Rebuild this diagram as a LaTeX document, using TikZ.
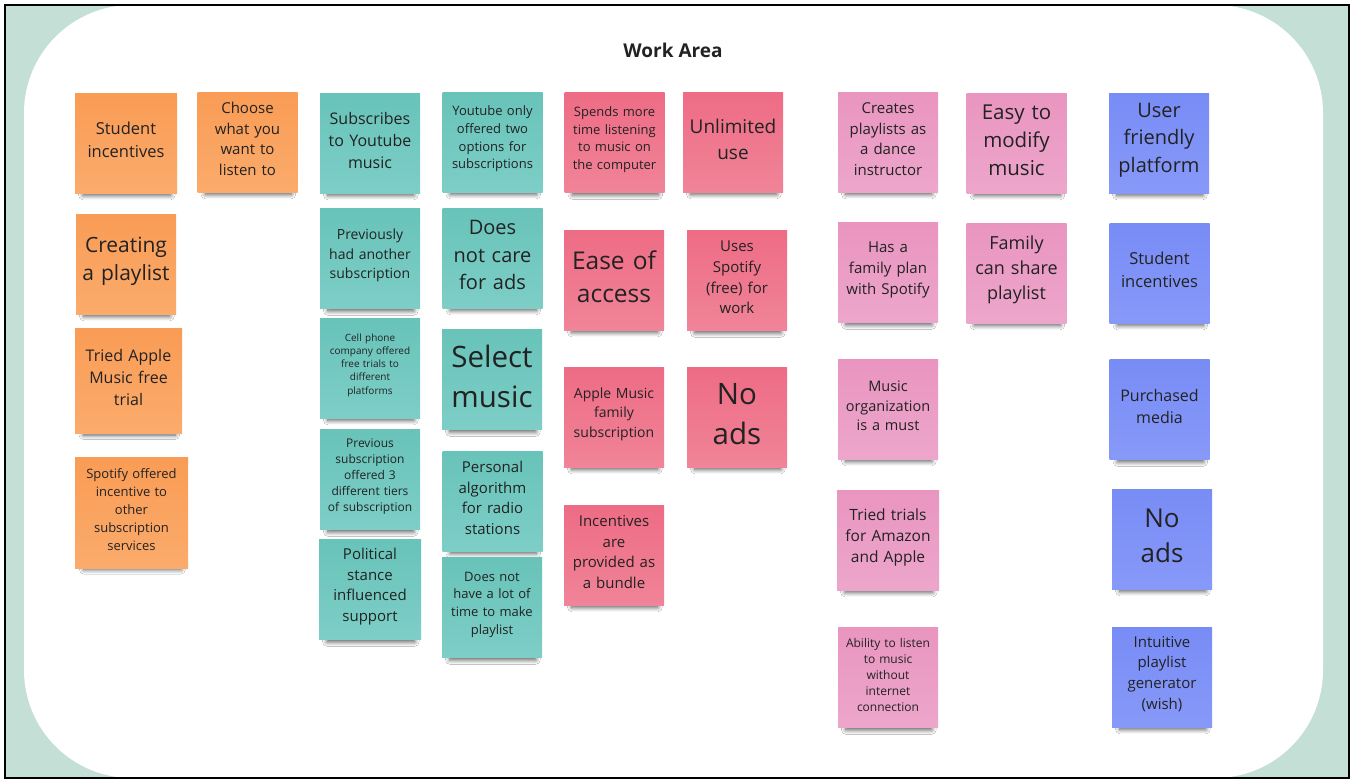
\documentclass[tikz,border=0pt]{standalone}
\usepackage{fontspec}
\setmainfont{Open Sans}
\usepackage{xcolor}
\usepackage{tikz}
\usetikzlibrary{shadows.blur}

\definecolor{boardgreen}{HTML}{C4DFD6}
\definecolor{notetext}{HTML}{222222}
\definecolor{orangetop}{HTML}{F99C55}
\definecolor{orangebot}{HTML}{FBAB6C}
\definecolor{tealtop}{HTML}{68C3B9}
\definecolor{tealbot}{HTML}{7DCEC7}
\definecolor{redtop}{HTML}{EE6C85}
\definecolor{redbot}{HTML}{F08498}
\definecolor{pinktop}{HTML}{E995C0}
\definecolor{pinkbot}{HTML}{EDA6CB}
\definecolor{bluetop}{HTML}{788CF6}
\definecolor{bluebot}{HTML}{8799F8}
\newcommand{\notefont}[2]{\fontsize{#1}{#2}\selectfont}

\begin{document}
\begin{tikzpicture}[
  x=1pt, y=-1pt,
  note/.style={rectangle, inner sep=0pt, minimum width=100pt, minimum height=100pt, text width=96pt, align=center, text=notetext,
    execute at end node={\endgraf\vspace*{6pt}},
    blur shadow={shadow xshift=1pt, shadow yshift=-11pt, shadow scale=0.86, shadow blur radius=5pt, shadow blur steps=8, shadow opacity=65}},
  orangenote/.style={note, top color=orangetop, bottom color=orangebot},
  tealnote/.style={note, top color=tealtop, bottom color=tealbot},
  rednote/.style={note, top color=redtop, bottom color=redbot},
  pinknote/.style={note, top color=pinktop, bottom color=pinkbot},
  bluenote/.style={note, top color=bluetop, bottom color=bluebot}
]
\useasboundingbox (0,0) rectangle (1354,784);
\fill[boardgreen] (5,5) rectangle (1349,778);
\fill[white, rounded corners=108pt] (24,5) rectangle (1323,778);
\draw[line width=2.5pt] (5,5) rectangle (1349,778);
\node[font=\notefont{19}{24}\bfseries, text=notetext] (title) at (673,50) {Work Area};

\node[orangenote, minimum width=102pt, font=\notefont{16.5}{23}] (stuinc) at (126,143) {Student\\incentives};
\node[orangenote, font=\notefont{15}{20.7}] (choose) at (247.5,142) {Choose\\what you\\want to\\listen to};
\node[orangenote, font=\notefont{21}{28}] (creating) at (126,264) {Creating\\a playlist};
\node[orangenote, minimum width=107pt, minimum height=105pt, font=\notefont{16}{22}] (appletrial) at (128.5,380.5) {Tried Apple\\Music free\\trial};
\node[orangenote, minimum width=113pt, minimum height=111pt, font=\notefont{13}{17.8}] (spotifyoffer) at (131.5,512.5) {Spotify offered\\incentive to\\other\\subscription\\services};

\node[tealnote, font=\notefont{16}{22}] (subyt) at (370,143) {Subscribes\\to Youtube\\music};
\node[tealnote, font=\notefont{13}{17.7}] (ytonly) at (492.5,142) {Youtube only\\offered two\\options for\\subscriptions};
\node[tealnote, font=\notefont{14}{19.5}] (prevsub) at (370,258.5) {Previously\\had another\\subscription};
\node[tealnote, font=\notefont{20}{27.5}] (noadscare) at (492.5,258) {Does\\not care\\for ads};
\node[tealnote, font=\notefont{10}{13.3}] (cellphone) at (370,368) {Cell phone\\company offered\\free trials to\\different\\platforms};
\node[tealnote, font=\notefont{29.5}{40}] (select) at (492,379.5) {Select\\music};
\node[tealnote, font=\notefont{12}{16}] (tiers) at (370,479.5) {Previous\\subscription\\offered 3\\different tiers\\of subscription};
\node[tealnote, font=\notefont{15}{20.7}] (algorithm) at (492.5,501) {Personal\\algorithm\\for radio\\stations};
\node[tealnote, minimum width=102pt, font=\notefont{15}{20.7}] (political) at (370,589.5) {Political\\stance\\influenced\\support};
\node[tealnote, font=\notefont{13}{17.7}] (notime) at (492,607.5) {Does not\\have a lot of\\time to make\\playlist};

\node[rednote, font=\notefont{13}{17.7}] (spends) at (614.5,142.5) {Spends more\\time listening\\to music on\\the computer};
\node[rednote, font=\notefont{19}{26}] (unlimited) at (733,142) {Unlimited\\use};
\node[rednote, font=\notefont{24.5}{33}] (ease) at (614,280) {Ease of\\access};
\node[rednote, font=\notefont{15}{20.7}] (spotifywork) at (737,280.5) {Uses\\Spotify\\(free) for\\work};
\node[rednote, font=\notefont{14}{19.5}] (applefamily) at (614,417) {Apple Music\\family\\subscription};
\node[rednote, font=\notefont{29.5}{40}] (noadsred) at (737,417) {No\\ads};
\node[rednote, font=\notefont{15}{20.7}] (bundle) at (614,555) {Incentives\\are\\provided as\\a bundle};

\node[pinknote, font=\notefont{15}{20.5}] (dance) at (888,142) {Creates\\playlists as\\a dance\\instructor};
\node[pinknote, font=\notefont{20.5}{28}] (modify) at (1016.5,143) {Easy to\\modify\\music};
\node[pinknote, font=\notefont{15}{21}] (familyplan) at (888,272.5) {Has a\\family plan\\with Spotify};
\node[pinknote, font=\notefont{18}{25}] (familyshare) at (1016.5,273) {Family\\can share\\playlist};
\node[pinknote, font=\notefont{14.5}{19.7}] (organize) at (888,409) {Music\\organization\\is a must};
\node[pinknote, minimum width=102pt, font=\notefont{15.5}{21}] (trials) at (888,540) {Tried trials\\for Amazon\\and Apple};
\node[pinknote, font=\notefont{12}{16}] (offline) at (888,677.5) {Ability to listen\\to music\\without\\internet\\connection};

\node[bluenote, font=\notefont{20}{27.5}] (userfriendly) at (1159,143) {User\\friendly\\platform};
\node[bluenote, font=\notefont{16.5}{23}] (stuincblue) at (1159.5,273) {Student\\incentives};
\node[bluenote, font=\notefont{16}{22}] (purchased) at (1159.5,409.5) {Purchased\\media};
\node[bluenote, font=\notefont{26}{35}] (noadsblue) at (1162,539) {No\\ads};
\node[bluenote, font=\notefont{15}{20.7}] (generator) at (1162,677) {Intuitive\\playlist\\generator\\(wish)};
\end{tikzpicture}
\end{document}
